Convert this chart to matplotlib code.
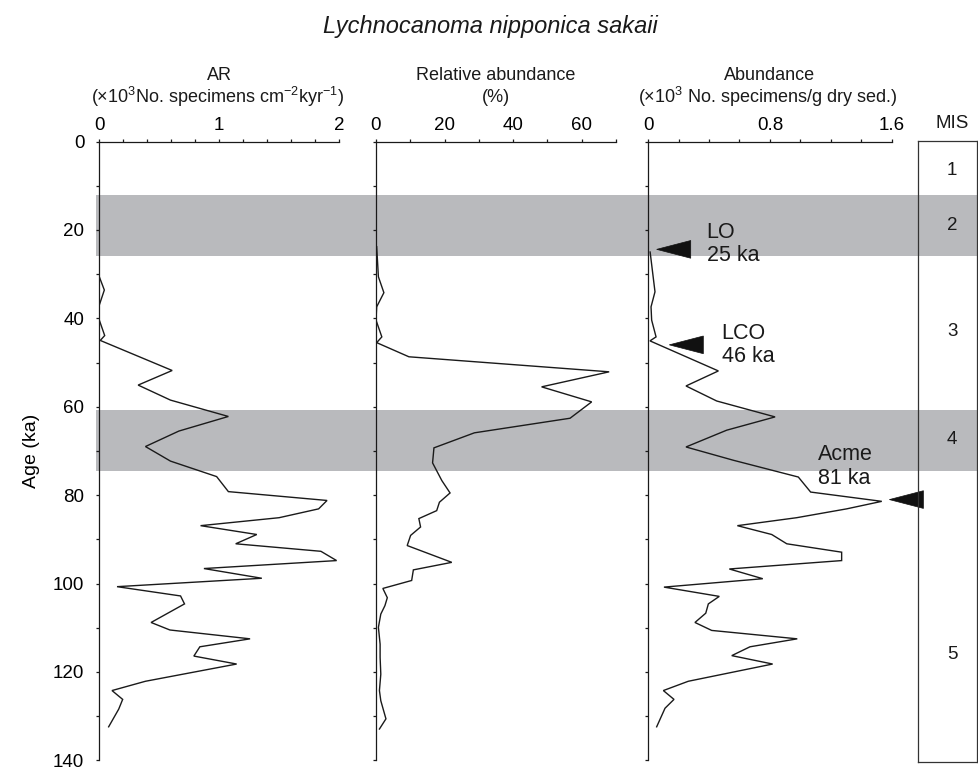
import numpy as np
import matplotlib
matplotlib.use('Agg')
import matplotlib.pyplot as plt
from matplotlib.patches import Rectangle, Polygon
import matplotlib.transforms as mtransforms
from matplotlib.ticker import MultipleLocator, FixedLocator, FuncFormatter

plt.rcParams['font.family'] = ['Liberation Sans', 'DejaVu Sans']
plt.rcParams['mathtext.fontset'] = 'custom'
plt.rcParams['mathtext.rm'] = 'Liberation Sans'
plt.rcParams['mathtext.it'] = 'Liberation Sans:italic'

# ---------------- data ----------------
title = 'Lychnocanoma nipponica sakaii'

# Accumulation rate (x10^3 specimens cm-2 kyr-1)
ar_age = [24.0, 30.6, 33.6, 37.0, 40.4, 43.9, 45.0, 51.8, 55.1, 58.5, 62.2, 65.5,
          69.0, 72.3, 75.8, 79.2, 81.2, 83.1, 85.1, 86.9, 88.9, 91.0, 92.7, 94.8,
          96.6, 98.8, 100.7, 102.8, 104.6, 108.8, 110.5, 112.5, 114.3, 116.4,
          118.2, 122.1, 124.2, 126.2, 128.4, 132.4]
ar_val = [0.0, 0.0, 0.042, 0.0, 0.0, 0.045, 0.008, 0.608, 0.324, 0.594, 1.077, 0.664,
          0.385, 0.594, 0.979, 1.077, 1.90, 1.83, 1.50, 0.845, 1.314, 1.138, 1.849, 1.98,
          0.873, 1.356, 0.148, 0.678, 0.711, 0.432, 0.589, 1.258, 0.839, 0.789,
          1.146, 0.385, 0.106, 0.195, 0.162, 0.078]

# Relative abundance (%)
rel_age = [23.8, 30.6, 34.2, 37.4, 40.4, 44.2, 45.5, 48.7, 52.1, 55.5, 58.9, 62.6,
           65.9, 69.3, 72.7, 76.7, 79.5, 81.6, 83.5, 85.3, 87.2, 89.1, 91.4, 95.2,
           96.9, 99.3, 101.1, 103.2, 105.0, 106.9, 109.9, 113.7, 116.7, 120.5,
           124.2, 126.5, 130.6, 132.9]
rel_val = [0.2, 0.7, 2.3, 0.2, 0.0, 1.7, 0.2, 9.6, 68.0, 48.3, 62.9, 56.6,
           28.7, 16.9, 16.5, 19.2, 21.6, 18.5, 17.7, 12.5, 13.0, 10.1, 9.1, 22.1,
           10.9, 10.4, 2.0, 3.3, 2.6, 1.4, 0.7, 1.2, 1.2, 1.4,
           1.0, 1.4, 2.9, 1.0]

# Abundance (x10^3 specimens / g dry sed.)
abd_age = [25.0, 34.0, 37.4, 40.4, 44.2, 45.1, 51.9, 55.3, 58.7, 62.3, 65.3, 69.1,
           72.1, 75.9, 79.3, 81.4, 83.1, 85.1, 86.9, 88.9, 91.0, 92.9, 94.8, 96.7,
           98.9, 100.8, 102.9, 104.6, 106.7, 108.8, 110.6, 112.5, 114.3, 116.3,
           118.2, 122.1, 124.2, 126.2, 128.2, 132.4]
abd_val = [0.012, 0.044, 0.018, 0.022, 0.051, 0.011, 0.461, 0.248, 0.45, 0.834, 0.516, 0.248,
           0.559, 0.987, 1.068, 1.536, 1.305, 0.976, 0.586, 0.812, 0.911, 1.272, 1.272, 0.533,
           0.753, 0.103, 0.467, 0.395, 0.378, 0.307, 0.417, 0.980, 0.669, 0.549,
           0.818, 0.263, 0.099, 0.169, 0.110, 0.055]

# Marine isotope stages
mis_labels = ['1', '2', '3', '4', '5']
mis_label_age = [6.5, 19.0, 43.0, 67.5, 116.0]
glacial_start = [12.0, 60.7]
glacial_end = [26.0, 74.6]

# Bioevents
event_names = ['LO', 'LCO', 'Acme']
event_age = [24.4, 46.0, 81.0]
event_text = ['25 ka', '46 ka', '81 ka']

# ---------------- layout ----------------
W, H = 979, 772
fig = plt.figure(figsize=(W / 100, H / 100), dpi=100)
fig.patch.set_facecolor('white')

Y0, Y1 = 141.5, 760.4


def fax(x0, x1, y0=Y0, y1=Y1):
    return fig.add_axes([x0 / W, 1 - y1 / H, (x1 - x0) / W, (y1 - y0) / H])


ink = '#1a1a1a'
spine_lw = 0.9
fs_tick = 13.5

ax1 = fax(99.3, 339.0)
ax2 = fax(376.0, 616.0)
ax3 = fax(648.3, 891.5)

panels = [
    (ax1, ar_age, ar_val, (0, 2), [0, 1, 2], 0.2, lambda v: '%d' % v),
    (ax2, rel_age, rel_val, (0, 70), [0, 20, 40, 60], 10, lambda v: '%d' % v),
    (ax3, abd_age, abd_val, (0, 1.6), [0, 0.8, 1.6], 0.2, lambda v: '0' if v == 0 else '%.1f' % v),
]

for i, (ax, age, val, xl, majors, minor, fmt) in enumerate(panels):
    ax.set_facecolor('none')
    ax.plot(val, age, color=ink, lw=1.0, solid_joinstyle='miter', zorder=3)
    ax.set_xlim(*xl)
    ax.set_ylim(140, 0)
    for s in ['right', 'bottom']:
        ax.spines[s].set_visible(False)
    for s in ['left', 'top']:
        ax.spines[s].set_color(ink)
        ax.spines[s].set_linewidth(spine_lw)
    ax.xaxis.set_major_locator(FixedLocator(majors))
    ax.xaxis.set_minor_locator(MultipleLocator(minor))
    ax.xaxis.set_major_formatter(FuncFormatter(lambda v, p, f=fmt: f(v)))
    ax.yaxis.set_major_locator(MultipleLocator(20))
    ax.yaxis.set_minor_locator(MultipleLocator(10))
    ax.tick_params(axis='x', which='both', top=True, bottom=False, labeltop=True,
                   labelbottom=False, direction='out', length=2.3, width=spine_lw,
                   color=ink, pad=3.0, labelsize=fs_tick)
    ax.tick_params(axis='y', which='both', left=True, right=False, direction='out',
                   length=2.3, width=spine_lw, color=ink, pad=8.5, labelsize=fs_tick,
                   labelleft=(i == 0))

ax1.set_ylabel('Age (ka)', fontsize=14, labelpad=9)

# glacial bands across the figure
blend = mtransforms.blended_transform_factory(fig.transFigure, ax1.transData)
for a, b in zip(glacial_start, glacial_end):
    fig.add_artist(Rectangle((96 / W, a), 1 - 96 / W, b - a, transform=blend,
                             facecolor='#b9babd', edgecolor='none', zorder=-1))

# MIS box
axm = fax(917.7, 977.0, 141.0, 761.7)
axm.set_facecolor('none')
axm.set_xlim(0, 1)
axm.set_ylim(140.3, -0.1)
axm.set_xticks([])
axm.set_yticks([])
for s in axm.spines.values():
    s.set_color('#333333')
    s.set_linewidth(spine_lw)
for lab, a in zip(mis_labels, mis_label_age):
    axm.text(0.58, a, lab, ha='center', va='center', fontsize=fs_tick, color=ink)
fig.text(952 / W, 1 - 123 / H, 'MIS', ha='center', va='center', fontsize=fs_tick, color=ink)

# bioevent arrows and labels (panel 3 coordinates)
tip_x = [0.055, 0.138, 1.586]
arrow_len = 0.224
half_h = 2.0
txt_x = [0.384, 0.483, 1.118]
txt_dy1 = [-2.5, -1.4, -8.9]
txt_dy2 = [2.6, 3.9, -3.6]
fs_ev = 15.5
for name, a, t, tx, lx, d1, d2 in zip(event_names, event_age, event_text, tip_x, txt_x, txt_dy1, txt_dy2):
    ax3.add_patch(Polygon([[tx, a], [tx + arrow_len, a - half_h], [tx + arrow_len, a + half_h]],
                          closed=True, facecolor='#111111', edgecolor='#111111', lw=0.5,
                          clip_on=False, zorder=5))
    ax3.text(lx, a + d1, name, ha='left', va='baseline', fontsize=fs_ev, color=ink, clip_on=False)
    ax3.text(lx, a + d2, t, ha='left', va='baseline', fontsize=fs_ev, color=ink, clip_on=False)

# headers
def fxy(x, y):
    return x / W, 1 - y / H

fs_head = 13
fig.text(*fxy(219, 76), 'AR', ha='center', va='center', fontsize=fs_head, color=ink)
fig.text(*fxy(218, 97), r'(×10$^{3}$No. specimens cm$^{-2}$kyr$^{-1}$)', ha='center',
         va='center', fontsize=fs_head, color=ink)
fig.text(*fxy(496, 76), 'Relative abundance', ha='center', va='center', fontsize=fs_head, color=ink)
fig.text(*fxy(496, 97), '(%)', ha='center', va='center', fontsize=fs_head, color=ink)
fig.text(*fxy(770, 76), 'Abundance', ha='center', va='center', fontsize=fs_head, color=ink)
fig.text(*fxy(768, 97), r'(×10$^{3}$ No. specimens/g dry sed.)', ha='center',
         va='center', fontsize=fs_head, color=ink)

fig.text(*fxy(490, 26), title, ha='center', va='center', fontsize=17, style='italic', color=ink)

fig.savefig('out.png', dpi=100, facecolor='white')
